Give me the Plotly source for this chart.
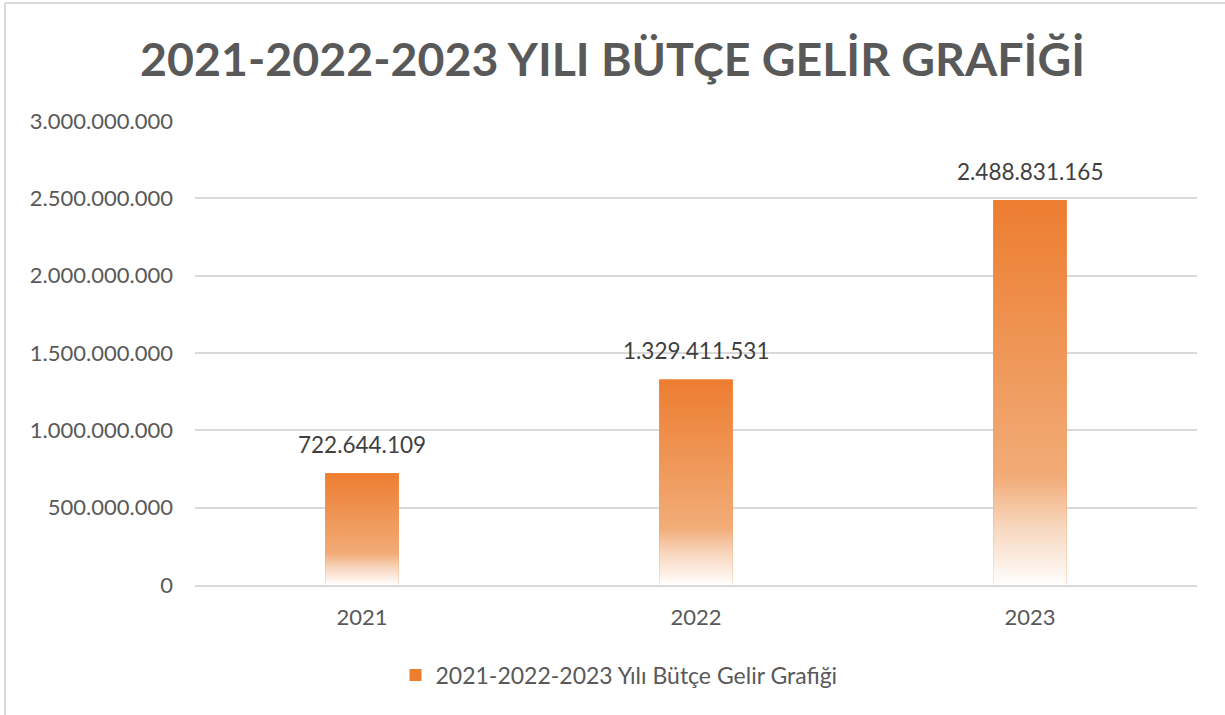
import plotly.graph_objects as go

years = ['2021', '2022', '2023']
gelir = [722644109, 1329411531, 2488831165]
series_name = '2021-2022-2023 Yılı Bütçe Gelir Grafiği'
title_text = '2021-2022-2023 YILI BÜTÇE GELİR GRAFİĞİ'

ORANGE = '#ED7D31'
BAR_W = 0.22
FONT = 'Lato'
W, H = 1225, 715

fig = go.Figure()

# base bar (legend + solid colour), the gradient polygon is drawn over it
fig.add_trace(go.Bar(
    x=list(range(len(years))), y=gelir, width=BAR_W,
    marker=dict(color=ORANGE, line_width=0),
    name=series_name, showlegend=True, hoverinfo='skip'
))

grad = [[0, '#FFFFFF'], [0.05, '#FDF1E8'], [0.15, '#F8D7BF'],
        [0.28, '#F2AC78'], [0.55, '#EF9A5C'], [1, ORANGE]]
for i, v in enumerate(gelir):
    x0, x1 = i - BAR_W / 2, i + BAR_W / 2
    fig.add_trace(go.Scatter(
        x=[x0, x1, x1, x0, x0], y=[0, 0, v, v, 0],
        mode='lines', line=dict(width=0), fill='toself',
        fillgradient=dict(type='vertical', colorscale=grad, start=0, stop=v),
        showlegend=False, hoverinfo='skip'
    ))
    fig.add_annotation(
        x=i, y=v, text=f'{v:,}'.replace(',', '.'),
        showarrow=False, yanchor='bottom', yshift=13,
        font=dict(family=FONT, size=22.5, color='#404040')
    )

# plot area in pixels: x 195..1197, y 121..585
px_w, px_h = W - 195 - 28, H - 121 - 130
fx = lambda p: (p - 195) / px_w
fy = lambda p: (H - 130 - p) / px_h

fig.update_layout(
    width=W, height=H,
    paper_bgcolor='white', plot_bgcolor='white',
    separators=',.',
    margin=dict(l=195, r=28, t=121, b=130),
    title=dict(text=title_text, x=0.5, xref='container', xanchor='center',
               y=1 - 59.5 / H, yref='container', yanchor='middle',
               font=dict(family=FONT, size=46.5, color='#595959', weight='bold')),
    legend=dict(orientation='h', xref='container', x=619 / W, xanchor='center',
                yref='container', y=1 - 675 / H, yanchor='middle',
                font=dict(family=FONT, size=23, color='#595959')),
    showlegend=True,
    shapes=[
        dict(type='line', xref='paper', yref='paper',
             x0=fx(5), x1=fx(W), y0=fy(3), y1=fy(3),
             line=dict(color='#D9D9D9', width=2)),
        dict(type='line', xref='paper', yref='paper',
             x0=fx(5), x1=fx(5), y0=fy(3), y1=fy(H),
             line=dict(color='#D9D9D9', width=2)),
    ],
)

fig.update_xaxes(
    range=[-0.5, len(years) - 0.5],
    tickvals=list(range(len(years))), ticktext=years,
    showgrid=False, zeroline=False,
    showline=True, linecolor='#D9D9D9', linewidth=2,
    ticklabelstandoff=12,
    tickfont=dict(family=FONT, size=22, color='#595959')
)
fig.update_yaxes(
    range=[0, 3e9], dtick=5e8, tickformat=',d',
    showgrid=True, gridcolor='#D9D9D9', gridwidth=1.5,
    zeroline=False, showline=False,
    ticklabelstandoff=21,
    tickfont=dict(family=FONT, size=22, color='#595959')
)

fig.write_html('out.html', config={'displayModeBar': False},
               post_script="document.body.style.margin='0';")
